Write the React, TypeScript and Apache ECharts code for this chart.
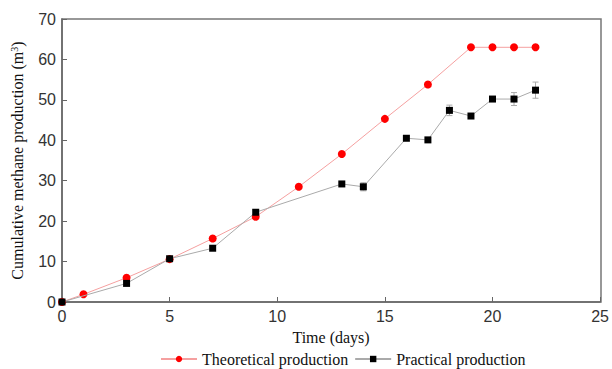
import React, { useEffect, useRef } from "react";
import * as echarts from "echarts";

const theoDays = [0, 1, 3, 5, 7, 9, 11, 13, 15, 17, 19, 20, 21, 22];
const theoValues = [0, 1.9, 6.0, 10.6, 15.7, 21.1, 28.5, 36.6, 45.3, 53.8, 63.0, 63.0, 63.0, 63.0];

const pracDays = [0, 3, 5, 7, 9, 13, 14, 16, 17, 18, 19, 20, 21, 22];
const pracValues = [0, 4.6, 10.7, 13.3, 22.2, 29.2, 28.5, 40.5, 40.1, 47.4, 46.0, 50.2, 50.2, 52.4];
const pracErrors = [0, 0.4, 0.3, 0.3, 0.6, 0.4, 1.0, 0.5, 0.4, 1.3, 0.4, 0.5, 1.6, 2.0];

const xTicks = [0, 5, 10, 15, 20, 25];
const yTicks = [0, 10, 20, 30, 40, 50, 60, 70];

export default function App() {
  const ref = useRef<HTMLDivElement>(null);
  useEffect(() => {
    if (!ref.current) return;
    const chart = echarts.init(ref.current, null, { renderer: "svg" });
    const theo = theoDays.map((d, i) => [d, theoValues[i]]);
    const prac = pracDays.map((d, i) => [d, pracValues[i]]);
    const errData = pracDays.map((d, i) => [d, pracValues[i] - pracErrors[i], pracValues[i] + pracErrors[i]]);
    const axisLabel = { fontFamily: "Liberation Sans", fontSize: 16, color: "#333" };
    chart.setOption({
      animation: false,
      backgroundColor: "#fff",
      grid: { left: 62, right: 11, top: 19, bottom: 67 },
      xAxis: {
        type: "value",
        min: xTicks[0],
        max: xTicks[xTicks.length - 1],
        interval: 5,
        name: "Time (days)",
        nameLocation: "middle",
        nameGap: 27,
        nameTextStyle: { fontFamily: "Liberation Serif", fontSize: 16, color: "#111" },
        axisLine: { lineStyle: { color: "#666", width: 1.5 } },
        axisTick: { inside: true, length: 5, lineStyle: { color: "#666" } },
        axisLabel: { ...axisLabel, margin: 6 },
        splitLine: { show: false },
      },
      yAxis: {
        type: "value",
        min: yTicks[0],
        max: yTicks[yTicks.length - 1],
        interval: 10,
        name: "Cumulative methane production (m{sup|3})",
        nameLocation: "middle",
        nameGap: 36,
        nameTextStyle: {
          fontFamily: "Liberation Serif",
          fontSize: 16,
          color: "#111",
          rich: { sup: { fontFamily: "Liberation Serif", fontSize: 10, verticalAlign: "top", lineHeight: 10, padding: [0, 0, 8, 0] } },
        },
        axisLine: { lineStyle: { color: "#666", width: 1.5 } },
        axisTick: { inside: true, length: 5, lineStyle: { color: "#666" } },
        axisLabel: { ...axisLabel, margin: 6 },
        splitLine: { show: false },
      },
      graphic: [
        {
          type: "rect",
          shape: { x: 62, y: 19, width: 539, height: 283 },
          style: { fill: "none", stroke: "#777", lineWidth: 1.5 },
          silent: true,
        },
      ],
      legend: {
        top: 350,
        left: 160,
        padding: 0,
        itemWidth: 36,
        itemHeight: 8,
        itemGap: 6,
        textStyle: { fontFamily: "Liberation Serif", fontSize: 16, color: "#111", lineHeight: 18 },
        data: ["Theoretical production", "Practical production"],
      },
      series: [
        {
          name: "Theoretical production",
          type: "line",
          data: theo,
          symbol: "circle",
          symbolSize: 8,
          itemStyle: { color: "#ff0000" },
          lineStyle: { color: "#f5a0a0", width: 1 },
          z: 3,
        },
        {
          name: "errorBars",
          type: "custom",
          data: errData,
          renderItem: (params: any, api: any) => {
            const x = api.value(0);
            const lo = api.coord([x, api.value(1)]);
            const hi = api.coord([x, api.value(2)]);
            const w = 3;
            const style = { stroke: "#aaa", lineWidth: 1 };
            return {
              type: "group",
              children: [
                { type: "line", shape: { x1: lo[0], y1: lo[1], x2: hi[0], y2: hi[1] }, style },
                { type: "line", shape: { x1: lo[0] - w, y1: lo[1], x2: lo[0] + w, y2: lo[1] }, style },
                { type: "line", shape: { x1: hi[0] - w, y1: hi[1], x2: hi[0] + w, y2: hi[1] }, style },
              ],
            };
          },
          z: 2,
          silent: true,
        },
        {
          name: "Practical production",
          type: "line",
          data: prac,
          symbol: "rect",
          symbolSize: 7,
          itemStyle: { color: "#000" },
          lineStyle: { color: "#aaa", width: 1 },
          z: 4,
        },
      ],
    });
    return () => chart.dispose();
  }, []);
  return <div ref={ref} style={{ position: "fixed", left: 0, top: 0, width: 612, height: 369 }} />;
}
